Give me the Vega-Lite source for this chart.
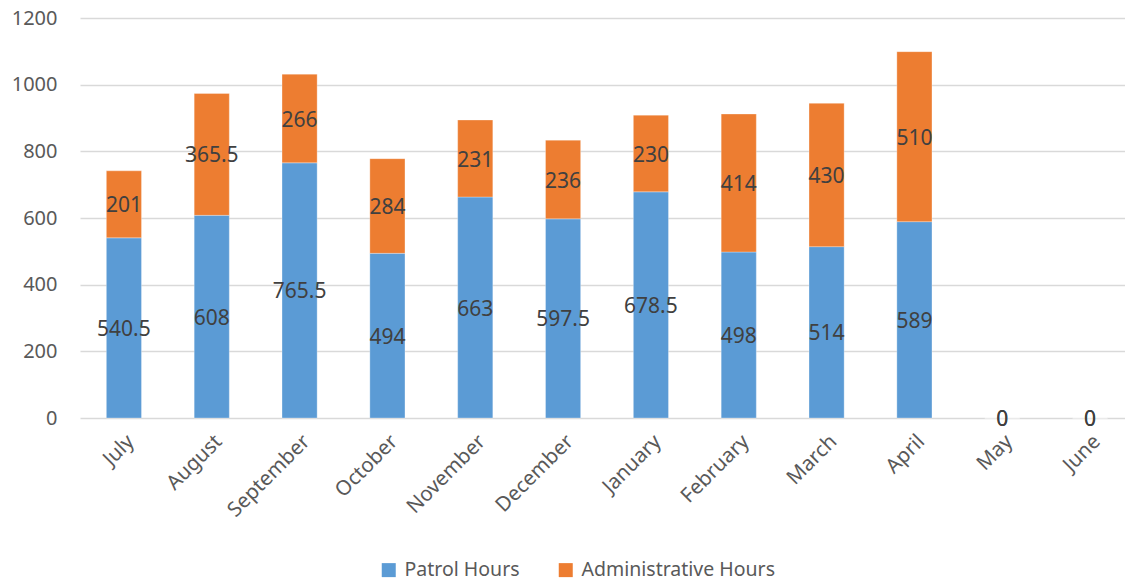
{
  "$schema": "https://vega.github.io/schema/vega-lite/v6.json",
  "width": 1054,
  "height": 400,
  "autosize": {"type": "none"},
  "padding": {"left": 80, "top": 18, "right": 0, "bottom": 164},
  "background": "white",
  "config": {
    "font": "Noto Sans",
    "view": {"stroke": null},
    "axis": {"labelFont": "Noto Sans", "labelColor": "#595959", "labelFontSize": 20, "gridColor": "#D9D9D9", "gridWidth": 1.5, "domain": false, "ticks": false, "title": null},
    "legend": {"labelFont": "Noto Sans", "labelColor": "#595959", "labelFontSize": 19.5}
  },
  "data": {
    "values": [
      {"month": "July", "series": "Patrol Hours", "ord": 1, "hours": 540.5},
      {"month": "July", "series": "Administrative Hours", "ord": 2, "hours": 201},
      {"month": "August", "series": "Patrol Hours", "ord": 1, "hours": 608},
      {"month": "August", "series": "Administrative Hours", "ord": 2, "hours": 365.5},
      {"month": "September", "series": "Patrol Hours", "ord": 1, "hours": 765.5},
      {"month": "September", "series": "Administrative Hours", "ord": 2, "hours": 266},
      {"month": "October", "series": "Patrol Hours", "ord": 1, "hours": 494},
      {"month": "October", "series": "Administrative Hours", "ord": 2, "hours": 284},
      {"month": "November", "series": "Patrol Hours", "ord": 1, "hours": 663},
      {"month": "November", "series": "Administrative Hours", "ord": 2, "hours": 231},
      {"month": "December", "series": "Patrol Hours", "ord": 1, "hours": 597.5},
      {"month": "December", "series": "Administrative Hours", "ord": 2, "hours": 236},
      {"month": "January", "series": "Patrol Hours", "ord": 1, "hours": 678.5},
      {"month": "January", "series": "Administrative Hours", "ord": 2, "hours": 230},
      {"month": "February", "series": "Patrol Hours", "ord": 1, "hours": 498},
      {"month": "February", "series": "Administrative Hours", "ord": 2, "hours": 414},
      {"month": "March", "series": "Patrol Hours", "ord": 1, "hours": 514},
      {"month": "March", "series": "Administrative Hours", "ord": 2, "hours": 430},
      {"month": "April", "series": "Patrol Hours", "ord": 1, "hours": 589},
      {"month": "April", "series": "Administrative Hours", "ord": 2, "hours": 510},
      {"month": "May", "series": "Patrol Hours", "ord": 1, "hours": 0},
      {"month": "May", "series": "Administrative Hours", "ord": 2, "hours": 0},
      {"month": "June", "series": "Patrol Hours", "ord": 1, "hours": 0},
      {"month": "June", "series": "Administrative Hours", "ord": 2, "hours": 0}
    ]
  },
  "transform": [
    {"stack": "hours", "groupby": ["month"], "sort": [{"field": "ord", "order": "ascending"}], "as": ["h0", "h1"]},
    {"calculate": "(datum.h0 + datum.h1) / 2", "as": "hmid"}
  ],
  "encoding": {
    "x": {
      "field": "month", "type": "nominal",
      "sort": ["July", "August", "September", "October", "November", "December", "January", "February", "March", "April", "May", "June"],
      "scale": {"paddingInner": 0.6, "paddingOuter": 0.3},
      "axis": {"labelAngle": -45, "labelPadding": 13, "grid": false, "labelFontSize": 20.5}
    }
  },
  "layer": [
    {
      "mark": {"type": "bar", "stroke": "white", "strokeWidth": 0.5, "strokeOpacity": 0.6},
      "encoding": {
        "y": {"field": "h0", "type": "quantitative", "scale": {"domain": [0, 1200]}, "axis": {"values": [0, 200, 400, 600, 800, 1000, 1200], "format": "d", "labelOverlap": false, "labelPadding": 23}},
        "y2": {"field": "h1"},
        "color": {
          "field": "series", "type": "nominal",
          "scale": {"domain": ["Patrol Hours", "Administrative Hours"], "range": ["#5B9BD5", "#ED7D31"]},
          "legend": {"title": null, "orient": "none", "legendX": 299, "legendY": 542, "direction": "horizontal", "symbolType": "square", "symbolSize": 196, "symbolStrokeWidth": 0, "columnPadding": 36, "labelOffset": 6, "labelLimit": 400}
        }
      }
    },
    {
      "mark": {"type": "text", "fontSize": 21, "color": "#404040", "baseline": "middle", "align": "center", "dy": 2},
      "encoding": {
        "y": {"field": "hmid", "type": "quantitative"},
        "text": {"field": "hours", "type": "quantitative"}
      }
    }
  ]
}
